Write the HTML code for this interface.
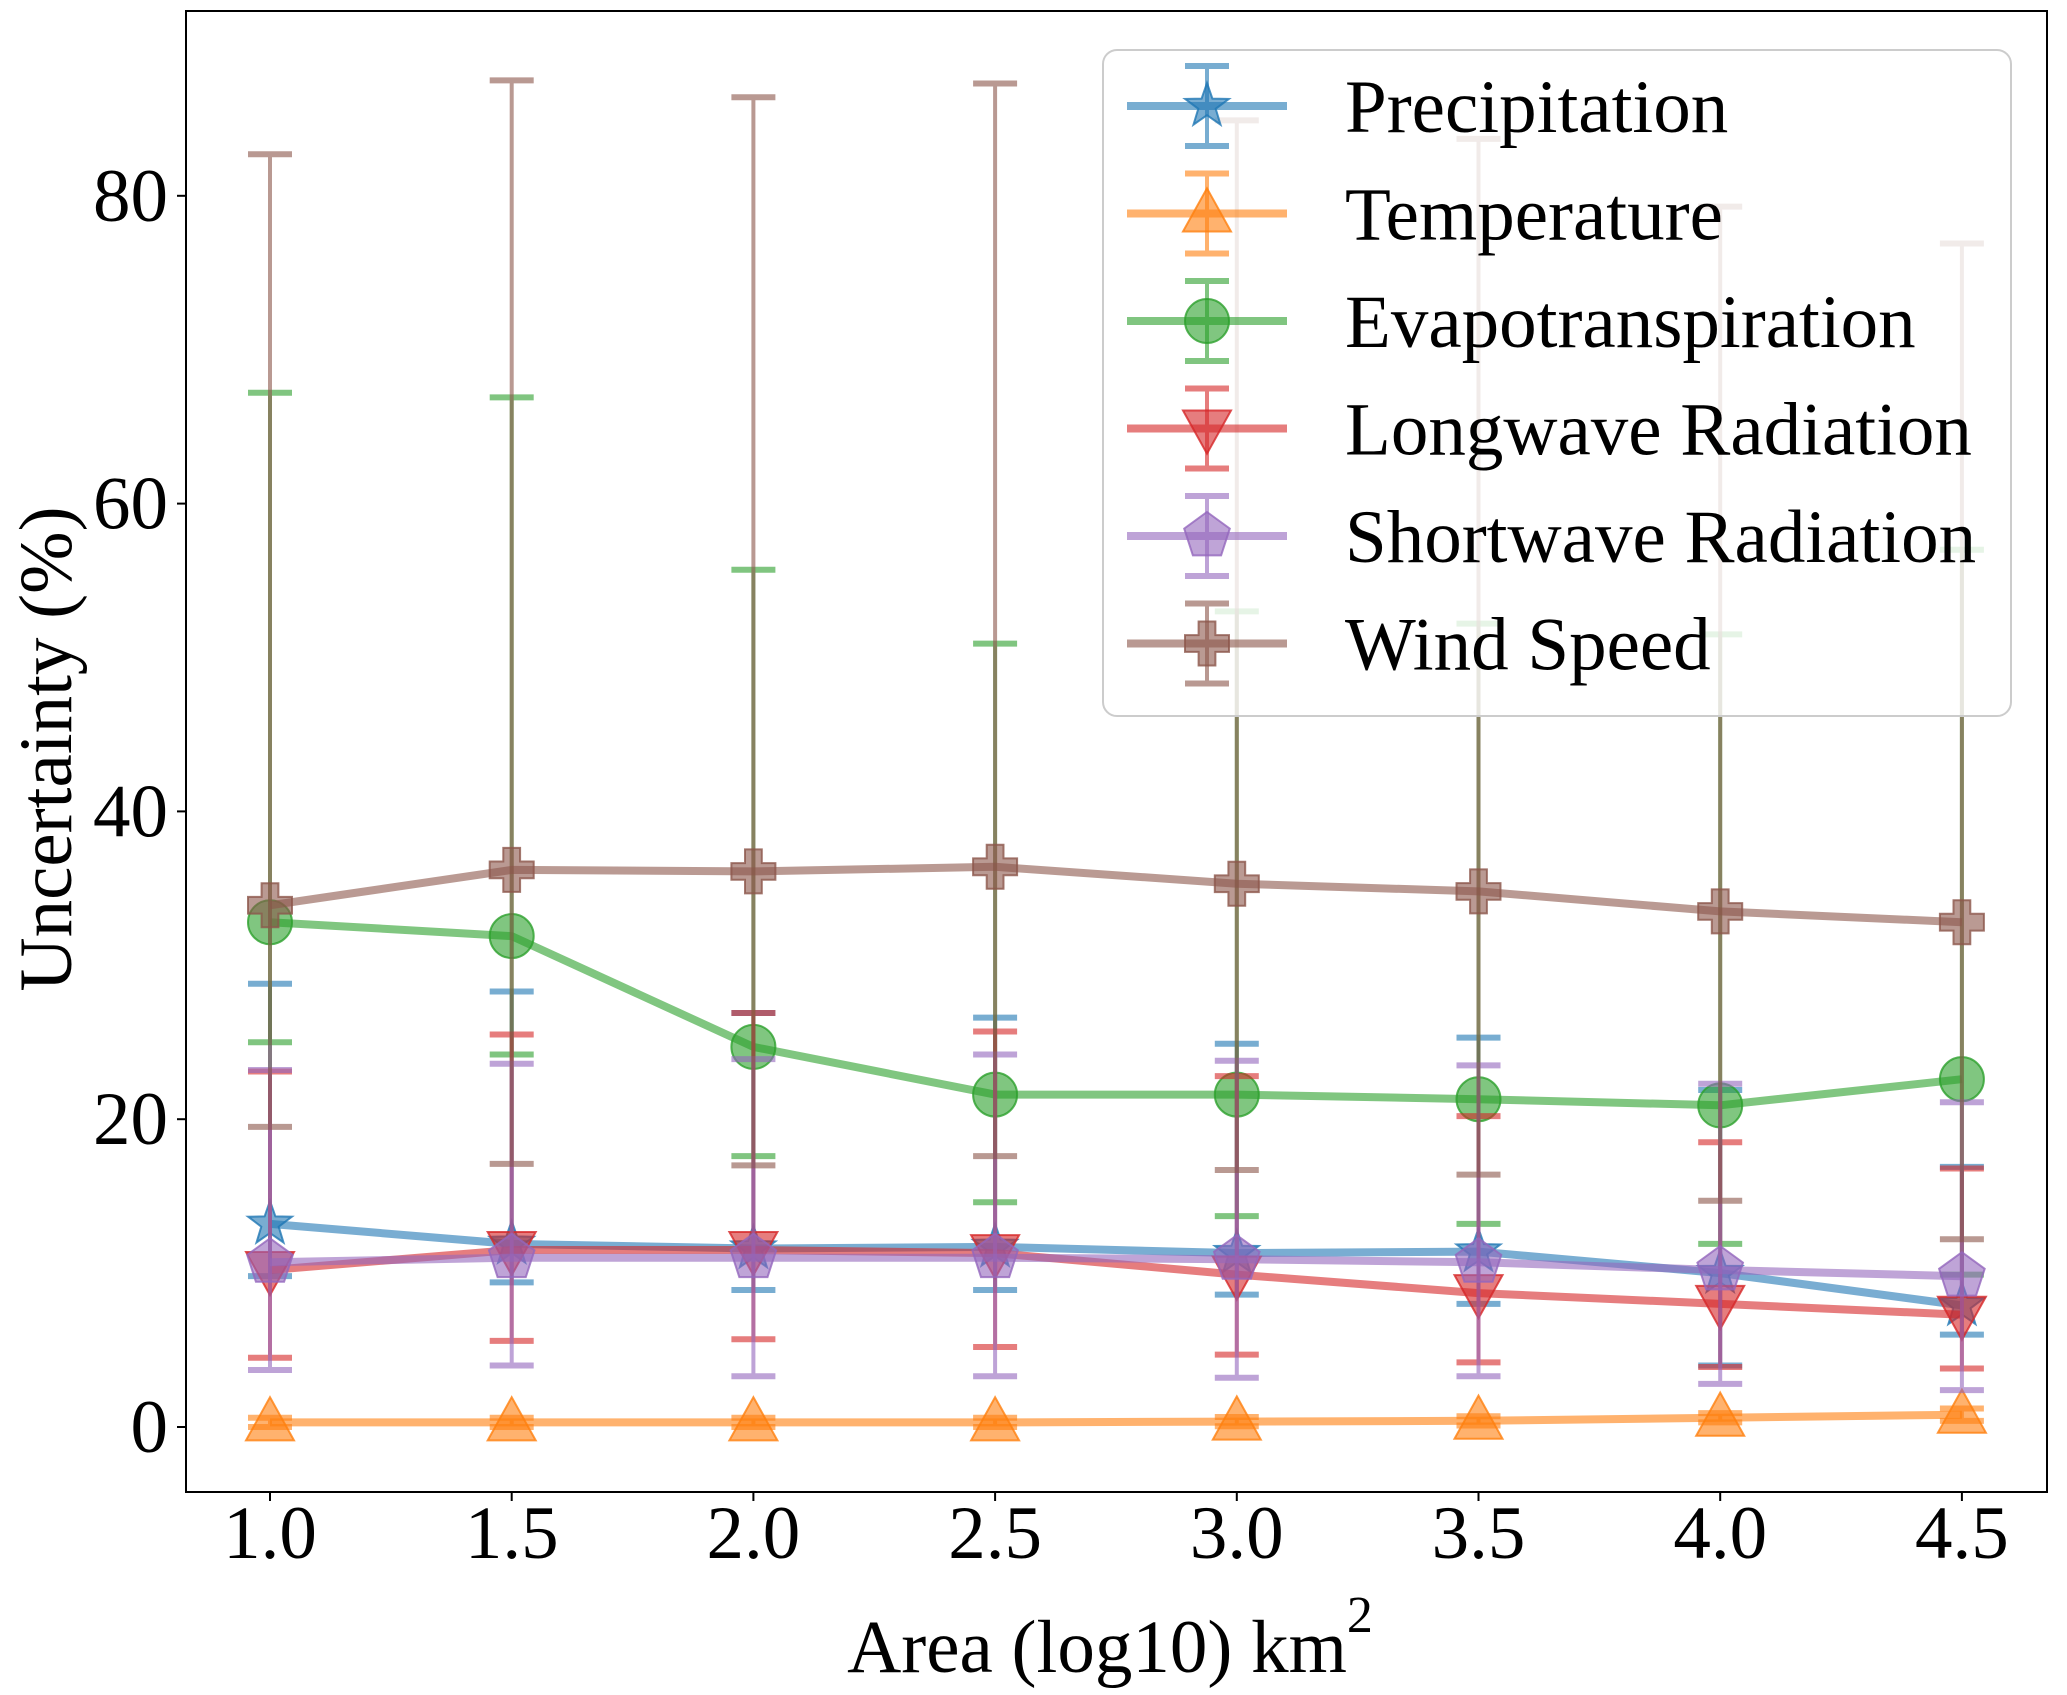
<!DOCTYPE html>
<html><head><meta charset="utf-8"><style>
html,body{margin:0;padding:0;background:#fff}
svg{display:block}
text{font-family:"Liberation Serif","Times New Roman",serif;fill:#000}
</style></head><body>
<svg id="chart" width="2067" height="1695" viewBox="0 0 2067 1695" xmlns="http://www.w3.org/2000/svg">
<g id="plot"></g>
<g id="axes"></g>
<g id="legend"></g>
</svg>
<script>
const areas = [1.0, 1.5, 2.0, 2.5, 3.0, 3.5, 4.0, 4.5];
const xTicks = ["1.0","1.5","2.0","2.5","3.0","3.5","4.0","4.5"];
const yTicks = [0, 20, 40, 60, 80];
const seriesNames = ["Precipitation","Temperature","Evapotranspiration","Longwave Radiation","Shortwave Radiation","Wind Speed"];
const precipMean = [13.2, 11.9, 11.6, 11.7, 11.3, 11.4, 10.0, 7.9];
const precipLow  = [9.8, 9.4, 8.9, 8.9, 8.6, 8.0, 4.0, 6.0];
const precipHigh = [28.8, 28.3, 26.9, 26.6, 24.9, 25.3, 21.9, 16.9];
const tempMean = [0.3, 0.3, 0.3, 0.3, 0.35, 0.4, 0.6, 0.8];
const tempLow  = [0.0, 0.0, 0.0, 0.0, 0.05, 0.1, 0.3, 0.4];
const tempHigh = [0.6, 0.6, 0.6, 0.6, 0.65, 0.7, 0.9, 1.2];
const etMean = [32.8, 31.9, 24.7, 21.6, 21.6, 21.3, 20.9, 22.6];
const etLow  = [25.0, 24.2, 17.6, 14.6, 13.7, 13.2, 11.9, 9.9];
const etHigh = [67.2, 66.9, 55.7, 50.9, 53.0, 52.2, 51.5, 57.0];
const lwMean = [10.2, 11.5, 11.5, 11.3, 9.9, 8.7, 8.0, 7.3];
const lwLow  = [4.5, 5.6, 5.7, 5.2, 4.7, 4.2, 3.9, 3.8];
const lwHigh = [23.1, 25.5, 26.9, 25.7, 22.8, 20.2, 18.5, 16.8];
const swMean = [10.7, 11.0, 11.0, 11.0, 10.9, 10.7, 10.2, 9.8];
const swLow  = [3.7, 4.0, 3.3, 3.3, 3.2, 3.3, 2.8, 2.4];
const swHigh = [23.2, 23.6, 23.9, 24.2, 23.8, 23.5, 22.3, 21.1];
const wsMean = [33.9, 36.2, 36.1, 36.4, 35.3, 34.8, 33.5, 32.8];
const wsLow  = [19.5, 17.1, 17.0, 17.6, 16.7, 16.4, 14.7, 12.2];
const wsHigh = [82.7, 87.5, 86.4, 87.3, 84.9, 83.7, 79.3, 76.9];

const NS = "http://www.w3.org/2000/svg";
const L = 186, R = 2047, T = 11, B = 1492;
function xs(v){ return 270 + (v - 1.0) * 483.4; }
function ys(v){ return 1427 - v * 15.39; }
function mk(tag, attrs, parent){
  const e = document.createElementNS(NS, tag);
  for (const k in attrs) e.setAttribute(k, attrs[k]);
  parent.appendChild(e);
  return e;
}
const colors = ["#1f77b4","#ff7f0e","#2ca02c","#d62728","#9467bd","#8c564b"];
const markers = ["star","tri-up","circle","tri-down","pentagon","plus"];
const means = [precipMean,tempMean,etMean,lwMean,swMean,wsMean];
const lows = [precipLow,tempLow,etLow,lwLow,swLow,wsLow];
const highs = [precipHigh,tempHigh,etHigh,lwHigh,swHigh,wsHigh];

function markerPath(type, cx, cy, r){
  let pts = [];
  if (type === "star"){
    for (let i=0;i<10;i++){ const a=-Math.PI/2+i*Math.PI/5; const rr = i%2? r*0.4 : r; pts.push([cx+rr*Math.cos(a), cy+rr*Math.sin(a)]); }
  } else if (type === "tri-up"){
    pts = [[cx,cy-r*1.05],[cx+r*1.0,cy+r*0.75],[cx-r*1.0,cy+r*0.75]];
  } else if (type === "tri-down"){
    pts = [[cx,cy+r*1.05],[cx+r*1.0,cy-r*0.75],[cx-r*1.0,cy-r*0.75]];
  } else if (type === "pentagon"){
    for (let i=0;i<5;i++){ const a=-Math.PI/2+i*2*Math.PI/5; pts.push([cx+r*Math.cos(a), cy+r*Math.sin(a)]); }
  } else if (type === "plus"){
    const a=r, b=r*0.38;
    pts = [[cx-b,cy-a],[cx+b,cy-a],[cx+b,cy-b],[cx+a,cy-b],[cx+a,cy+b],[cx+b,cy+b],[cx+b,cy+a],[cx-b,cy+a],[cx-b,cy+b],[cx-a,cy+b],[cx-a,cy-b],[cx-b,cy-b]];
  }
  return "M" + pts.map(p=>p[0].toFixed(1)+","+p[1].toFixed(1)).join("L") + "Z";
}
function drawMarker(type, cx, cy, color, parent, name){
  let e;
  if (type === "circle"){
    e = mk("circle", {cx:cx, cy:cy, r:22, fill:color, "fill-opacity":0.6, stroke:color, "stroke-width":2, "stroke-opacity":0.8}, parent);
  } else {
    e = mk("path", {d:markerPath(type,cx,cy,type==="star"?23:type==="plus"?22:24), fill:color, "fill-opacity":0.6, stroke:color, "stroke-width":2, "stroke-opacity":0.8, "stroke-linejoin":"miter"}, parent);
  }
  
  
}

const plot = document.getElementById("plot");
for (let s=0; s<6; s++){
  const g = mk("g", {}, plot);
  
  
  const c = colors[s];
  for (let i=0;i<areas.length;i++){
    const x = xs(areas[i]);
    const eb = mk("g", {opacity:0.6}, g);
    
    
    mk("line", {x1:x, x2:x, y1:ys(lows[s][i]), y2:ys(highs[s][i]), stroke:c, "stroke-width":4}, eb);
    mk("line", {x1:x-22, x2:x+22, y1:ys(lows[s][i]), y2:ys(lows[s][i]), stroke:c, "stroke-width":6}, eb);
    mk("line", {x1:x-22, x2:x+22, y1:ys(highs[s][i]), y2:ys(highs[s][i]), stroke:c, "stroke-width":6}, eb);
  }
  const pts = areas.map((a,i)=> xs(a).toFixed(1)+","+ys(means[s][i]).toFixed(1)).join(" ");
  const pl = mk("polyline", {points:pts, fill:"none", stroke:c, "stroke-width":8, "stroke-opacity":0.6, "stroke-linejoin":"round"}, g);
  
  
  for (let i=0;i<areas.length;i++){
    drawMarker(markers[s], xs(areas[i]), ys(means[s][i]), c, g, 'data-point');
  }
}

const axes = document.getElementById("axes");
const frame = mk("rect", {x:L, y:T, width:R-L, height:B-T, fill:"none", stroke:"#000", "stroke-width":2}, axes);


xTicks.forEach((lab,i)=>{
  const x = xs(areas[i]);
  mk("line", {x1:x, x2:x, y1:B, y2:B+9, stroke:"#000", "stroke-width":2}, axes);
  const t = mk("text", {x:x, y:1558, "font-size":75, "text-anchor":"middle"}, axes);
  t.textContent = lab;
  
  
});
yTicks.forEach(v=>{
  const y = ys(v);
  mk("line", {x1:L-9, x2:L, y1:y, y2:y, stroke:"#000", "stroke-width":2}, axes);
  const t = mk("text", {x:168, y:y+25, "font-size":75, "text-anchor":"end"}, axes);
  t.textContent = String(v);
  
  
});
</script>
<script>
(function(){
  const NS = "http://www.w3.org/2000/svg";
  const axes = document.getElementById("axes");
  const xl = document.createElementNS(NS, "text");
  xl.setAttribute("x", 1110); xl.setAttribute("y", 1672);
  xl.setAttribute("font-size", 75); xl.setAttribute("text-anchor", "middle");
  xl.innerHTML = 'Area (log10) km<tspan dy="-40" font-size="52">2</tspan>';
  
  
  axes.appendChild(xl);
  const yl = document.createElementNS(NS, "text");
  yl.setAttribute("transform", "translate(71,749) rotate(-90)");
  yl.setAttribute("font-size", 75); yl.setAttribute("text-anchor", "middle");
  yl.textContent = "Uncertainty (%)";
  
  
  axes.appendChild(yl);

  const lg = document.getElementById("legend");
  const box = document.createElementNS(NS, "rect");
  box.setAttribute("x", 1103); box.setAttribute("y", 50);
  box.setAttribute("width", 908); box.setAttribute("height", 666);
  box.setAttribute("rx", 14); box.setAttribute("fill", "#fff"); box.setAttribute("fill-opacity", 0.8);
  box.setAttribute("stroke", "#ccc"); box.setAttribute("stroke-width", 2);
  
  
  lg.appendChild(box);
  for (let s=0;s<6;s++){
    const y = 106 + s*107.5;
    const g = document.createElementNS(NS, "g");
    
    
    lg.appendChild(g);
    const c = colors[s];
    const e = document.createElementNS(NS, "g"); e.setAttribute("opacity", 0.6); g.appendChild(e);
    [[1207,1207,y-38,y+38,4],[1185,1229,y-40,y-40,6],[1185,1229,y+40,y+40,6],[1127,1287,y,y,8]].forEach(a=>{
      const l = document.createElementNS(NS, "line");
      l.setAttribute("x1",a[0]);l.setAttribute("x2",a[1]);l.setAttribute("y1",a[2]);l.setAttribute("y2",a[3]);
      l.setAttribute("stroke",c);l.setAttribute("stroke-width",a[4]);
      e.appendChild(l);
    });
    drawMarker(markers[s], 1207, y, c, g, 'legend-marker');
    const t = document.createElementNS(NS, "text");
    t.setAttribute("x", 1345); t.setAttribute("y", y+26); t.setAttribute("font-size", 75);
    t.textContent = seriesNames[s];
    
    
    g.appendChild(t);
  }
})();
</script>
</body></html>
